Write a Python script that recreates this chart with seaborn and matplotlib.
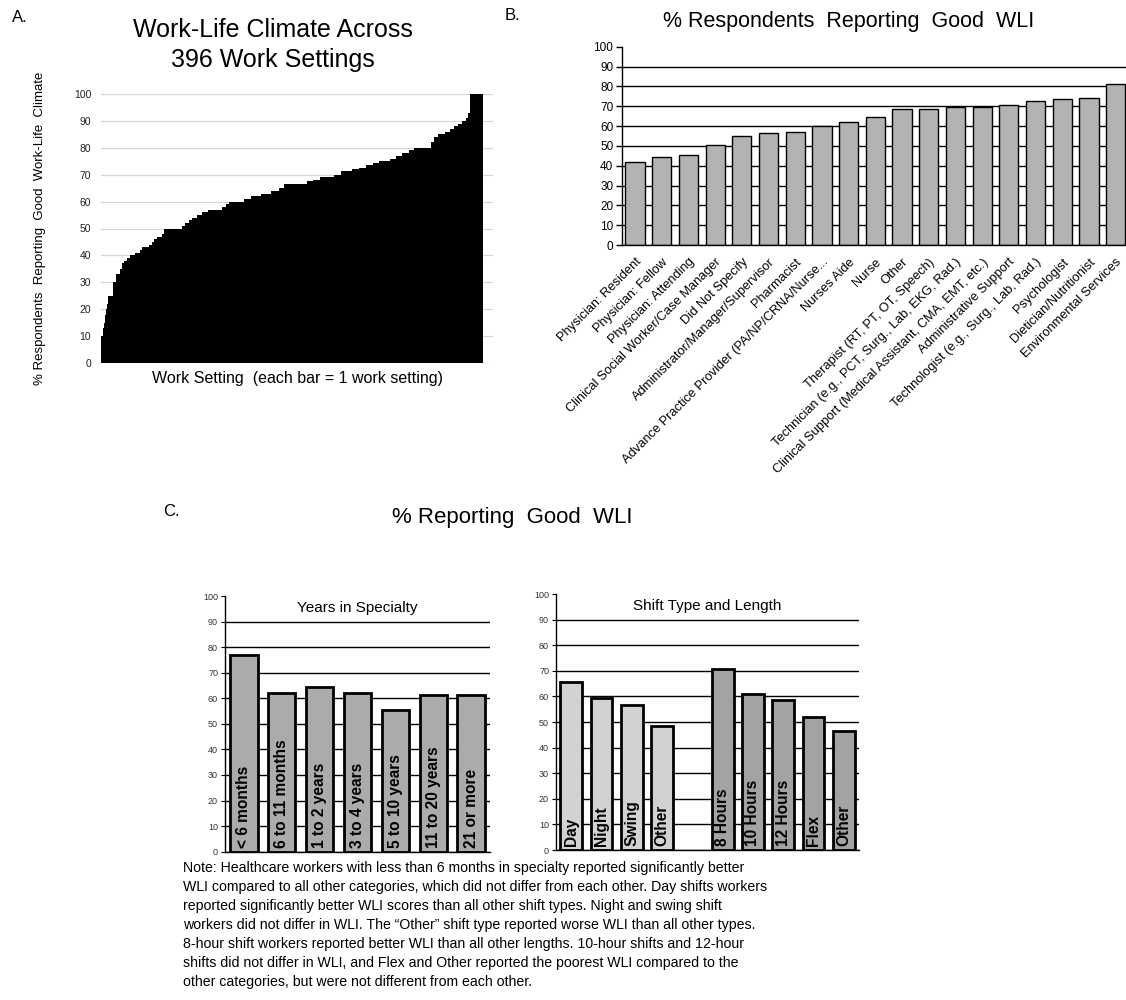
import numpy as np
import pandas as pd
import seaborn as sns
import matplotlib.pyplot as plt

setting_pct = [10, 13, 15, 18, 20, 22, 25, 30, 33, 35, 37, 38, 39, 40, 41, 42,
               43, 44, 45, 46, 47, 48, 50, 51, 52, 53, 54, 55, 56, 57, 58, 59,
               60, 61, 62, 63, 64, 65, 66.7, 67.5, 68, 69, 70, 71.4, 72, 72.5, 73.5, 74.3,
               75, 76, 77, 78, 79, 80, 82, 84, 85, 86, 87, 88, 89, 90, 91, 93, 100]
setting_n = [2, 1, 1, 1, 1, 1, 5, 4, 4, 2, 2, 3, 3, 5, 5, 3,
             7, 3, 2, 3, 5, 2, 19, 3, 4, 3, 6, 5, 6, 15, 4, 3,
             16, 7, 10, 10, 9, 5, 24, 6, 7, 15, 7, 12, 7, 7, 7, 7,
             11, 6, 7, 7, 5, 18, 3, 4, 7, 5, 5, 4, 4, 4, 2, 2, 14]

# B: by role
roles = ["Physician: Resident", "Physician: Fellow", "Physician: Attending",
         "Clinical Social Worker/Case Manager", "Did Not Specify",
         "Administrator/Manager/Supervisor", "Pharmacist",
         "Advance Practice Provider (PA/NP/CRNA/Nurse...", "Nurses Aide", "Nurse", "Other",
         "Therapist (RT, PT, OT, Speech)", "Technician (e.g., PCT, Surg., Lab, EKG, Rad.)",
         "Clinical Support (Medical Assistant, CMA, EMT, etc.)", "Administrative Support",
         "Technologist (e.g., Surg., Lab, Rad.)", "Psychologist", "Dietician/Nutritionist",
         "Environmental Services"]
role_pct = [42.0, 44.3, 45.3, 50.4, 55.2, 56.6, 57.1, 59.8, 62.0, 64.4, 68.8, 68.8,
            69.4, 69.8, 70.8, 72.5, 73.7, 74.2, 81.4]

# C: years in specialty
years = ["< 6 months", "6 to 11 months", "1 to 2 years", "3 to 4 years",
         "5 to 10 years", "11 to 20 years", "21 or more"]
years_pct = [77.1, 62.2, 64.3, 62.2, 55.4, 61.3, 61.3]

# C: shift type and shift length
shift_type = ["Day", "Night", "Swing", "Other"]
shift_type_pct = [65.5, 59.5, 56.8, 48.6]
shift_len = ["8 Hours", "10 Hours", "12 Hours", "Flex", "Other"]
shift_len_pct = [70.8, 60.9, 58.5, 52.0, 46.5]

note = ("Note: Healthcare workers with less than 6 months in specialty reported significantly better\n"
        "WLI compared to all other categories, which did not differ from each other. Day shifts workers\n"
        "reported significantly better WLI scores than all other shift types. Night and swing shift\n"
        "workers did not differ in WLI. The \u201cOther\u201d shift type reported worse WLI than all other types.\n"
        "8-hour shift workers reported better WLI than all other lengths. 10-hour shifts and 12-hour\n"
        "shifts did not differ in WLI, and Flex and Other reported the poorest WLI compared to the\n"
        "other categories, but were not different from each other.")

sns.set_style("white")
plt.rcParams['font.family'] = ['Liberation Sans', 'DejaVu Sans']
plt.rcParams.update({'text.color': 'black', 'axes.labelcolor': 'black',
                     'xtick.color': 'black', 'ytick.color': 'black'})

fig = plt.figure(figsize=(11.26, 10), dpi=100)
W, H = 1126, 1000


def px_axes(left, top, right, bottom):
    return fig.add_axes([left / W, 1 - bottom / H, (right - left) / W, (bottom - top) / H])


def boundary_ticks(ax, n, length=5):
    ax.set_xticks(np.arange(n + 1) - 0.5, minor=True)
    ax.tick_params(axis='x', which='minor', length=length, width=1, color='black', direction='out')
    ax.tick_params(axis='x', which='major', length=0)


# ---- panel A ----
axA = px_axes(101, 94, 493, 363)
df_a = pd.DataFrame({'setting': np.arange(sum(setting_n)),
                     'pct': np.repeat(setting_pct, setting_n)})
axA.set_axisbelow(True)
axA.yaxis.grid(True, color='#d6d6d6', lw=0.9)
sns.barplot(data=df_a, x='setting', y='pct', color='black', saturation=1, width=1.02,
            linewidth=0, ax=axA)
for p in axA.patches:
    p.set_antialiased(False)
axA.set_xlim(-0.5, len(df_a) + 9.5)
axA.set_ylim(0, 100)
axA.set_yticks(np.arange(0, 101, 10))
axA.set_xticks([])
axA.tick_params(axis='y', labelsize=7.5, length=0, pad=7, labelcolor='#222222')
for s in axA.spines.values():
    s.set_visible(False)
axA.set_ylabel("% Respondents  Reporting  Good  Work-Life  Climate", fontsize=9.5, labelpad=20)
axA.set_xlabel("Work Setting  (each bar = 1 work setting)", fontsize=11.5, labelpad=6)
fig.text(273 / W, 1 - 45 / H, "Work-Life Climate Across\n396 Work Settings", ha='center', va='center',
         fontsize=18, linespacing=1.3)
fig.text(12 / W, 1 - 17 / H, "A.", fontsize=12, va='center')

# ---- panel B ----
axB = px_axes(621.7, 46.7, 1129, 245)
axB.set_axisbelow(True)
sns.barplot(x=roles, y=role_pct, color='#b3b3b3', saturation=1, width=0.72,
            edgecolor='black', linewidth=1, ax=axB)
axB.set_xlim(-0.5, len(roles) - 0.5)
axB.set_ylim(0, 100)
axB.set_yticks(np.arange(0, 101, 10))
axB.yaxis.grid(True, color='black', lw=1)
axB.get_ygridlines()[-1].set_visible(False)
axB.tick_params(axis='y', labelsize=8.5, length=4, width=1, direction='out', left=True, pad=2)
for lbl in axB.get_xticklabels():
    lbl.set_rotation(45)
    lbl.set_ha('right')
    lbl.set_rotation_mode('anchor')
    lbl.set_fontsize(9.3)
boundary_ticks(axB, len(roles))
axB.tick_params(axis='x', which='major', pad=8)
for side in ['top', 'right']:
    axB.spines[side].set_visible(False)
for side in ['left', 'bottom']:
    axB.spines[side].set_color('black')
    axB.spines[side].set_linewidth(1)
fig.text(849 / W, 1 - 21 / H, "% Respondents  Reporting  Good  WLI", ha='center', va='center', fontsize=15.5)
fig.text(505 / W, 1 - 15 / H, "B.", fontsize=12, va='center')

# ---- panel C ----
fig.text(512 / W, 1 - 518 / H, "% Reporting  Good  WLI", ha='center', va='center', fontsize=16)
fig.text(163 / W, 1 - 512 / H, "C.", fontsize=12, va='center')


def panel_c_style(ax, n, title):
    ax.set_xlim(-0.5, n - 0.5)
    ax.set_ylim(0, 100)
    ax.set_yticks(np.arange(0, 101, 10))
    ax.yaxis.grid(True, color='black', lw=1)
    ax.get_ygridlines()[-1].set_visible(False)
    ax.tick_params(axis='y', labelsize=6.5, length=3, width=0.8, direction='out', left=True,
                   pad=2, labelcolor='#333333')
    ax.set_xticklabels([])
    boundary_ticks(ax, n, length=3)
    for side in ['top', 'right']:
        ax.spines[side].set_visible(False)
    for side in ['left', 'bottom']:
        ax.spines[side].set_color('black')
        ax.spines[side].set_linewidth(1)
    ax.set_xlabel("")
    ax.set_ylabel("")
    ax.text(0.5, 0.955, title, transform=ax.transAxes, ha='center', va='center', fontsize=11)


axC1 = px_axes(225, 596, 490, 851.7)
axC1.set_axisbelow(True)
sns.barplot(x=years, y=years_pct, color='#ababab', saturation=1, width=0.72,
            edgecolor='black', linewidth=2, ax=axC1)
panel_c_style(axC1, len(years), "Years in Specialty")
for i, lab in enumerate(years):
    axC1.text(i, 1.5, lab, rotation=90, ha='center', va='bottom', fontsize=11.2,
              fontweight='bold', color='black')

df_shift = pd.DataFrame({
    'key': ["type " + s for s in shift_type] + ["len " + s for s in shift_len],
    'label': shift_type + shift_len,
    'group': ["type"] * len(shift_type) + ["length"] * len(shift_len),
    'pct': shift_type_pct + shift_len_pct,
})
shift_order = list(df_shift.key[:len(shift_type)]) + ["gap"] + list(df_shift.key[len(shift_type):])

axC2 = px_axes(556, 594, 859, 850)
axC2.set_axisbelow(True)
sns.barplot(data=df_shift, x='key', y='pct', hue='group', order=shift_order,
            palette={'type': '#d2d2d2', 'length': '#a3a3a3'}, saturation=1, width=0.72,
            dodge=False, legend=False, edgecolor='black', linewidth=2, ax=axC2)
panel_c_style(axC2, len(shift_order), "Shift Type and Length")
for _, row in df_shift.iterrows():
    axC2.text(shift_order.index(row.key), 1.5, row.label, rotation=90, ha='center', va='bottom',
              fontsize=11.2, fontweight='bold', color='black')

fig.text(183 / W, 1 - 861 / H, note, ha='left', va='top', fontsize=10.2, linespacing=1.45)

fig.savefig("out.png", dpi=100)
